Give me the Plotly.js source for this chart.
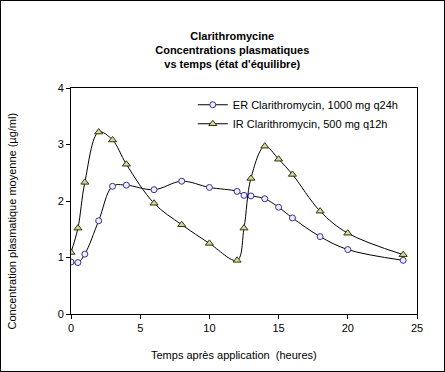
<!DOCTYPE html>
<html>
<head>
<meta charset="utf-8">
<script src="https://cdn.plot.ly/plotly-3.0.1.min.js"></script>
<style>
html,body{margin:0;padding:0;background:#fff;}
#chart{width:443px;height:370px;border:1px solid #000;}
</style>
</head>
<body>
<div id="chart"></div>
<script>
var hours = [0, 0.5, 1, 2, 3, 4, 6, 8, 10, 12, 12.5, 13, 14, 15, 16, 18, 20, 24];
var erValues = [0.92, 0.91, 1.06, 1.65, 2.26, 2.28, 2.2, 2.35, 2.24, 2.17, 2.1, 2.09, 2.04, 1.89, 1.7, 1.37, 1.14, 0.95];
var irValues = [1.09, 1.52, 2.33, 3.22, 3.08, 2.65, 1.96, 1.58, 1.25, 0.95, 1.52, 2.4, 2.97, 2.74, 2.47, 1.82, 1.43, 1.05];
var seriesNames = ["ER Clarithromycin, 1000 mg q24h", "IR Clarithromycin, 500 mg q12h"];
var xTicks = [0, 5, 10, 15, 20, 25];
var yTicks = [0, 1, 2, 3, 4];

var FONT = "Liberation Sans, Arial, sans-serif";

var traces = [
  {
    x: hours, y: erValues, name: seriesNames[0], type: "scatter", mode: "lines+markers",
    line: {color: "#000000", width: 1, shape: "spline", smoothing: 1},
    marker: {symbol: "circle", size: 6, color: "#EEEEFA", line: {color: "#333399", width: 1}}
  },
  {
    x: hours, y: irValues, name: seriesNames[1], type: "scatter", mode: "lines+markers",
    line: {color: "#000000", width: 1, shape: "spline", smoothing: 1},
    marker: {symbol: "triangle-up", size: 7, color: "#D6D6A8", line: {color: "#333300", width: 1}}
  }
];

var layout = {
  width: 443, height: 370,
  margin: {l: 70, r: 27, t: 87, b: 57},
  paper_bgcolor: "#ffffff", plot_bgcolor: "#ffffff",
  font: {family: FONT, size: 11, color: "#000000"},
  title: {
    text: "<b>Clarithromycine<br>Concentrations plasmatiques<br>vs temps (état d'équilibre)</b>",
    font: {family: FONT, size: 11, color: "#000000"},
    xref: "container", x: 0.522, xanchor: "center",
    yref: "container", y: 0.895, yanchor: "top"
  },
  xaxis: {
    range: [0, 25], tickvals: xTicks, ticktext: xTicks.map(String),
    showgrid: false, zeroline: false, showline: true, linecolor: "#000", linewidth: 1, mirror: true,
    ticks: "outside", ticklen: 4, tickcolor: "#000",
    tickfont: {family: FONT, size: 11, color: "#000"}
  },
  yaxis: {
    range: [0, 4], tickvals: yTicks, ticktext: yTicks.map(String),
    showgrid: false, zeroline: false, showline: true, linecolor: "#000", linewidth: 1, mirror: true,
    ticks: "outside", ticklen: 4, tickcolor: "#000",
    tickfont: {family: FONT, size: 11, color: "#000"}
  },
  showlegend: true,
  legend: {
    x: 0.352, xanchor: "left", y: 0.99, yanchor: "top",
    bgcolor: "rgba(0,0,0,0)", borderwidth: 0,
    font: {family: FONT, size: 11, color: "#000"},
    tracegroupgap: 0
  },
  annotations: [
    {
      text: "Temps après application  (heures)", showarrow: false,
      xref: "paper", x: 0.47, xanchor: "center",
      yref: "paper", y: -0.183, yanchor: "middle",
      font: {family: FONT, size: 11, color: "#000"}
    },
    {
      text: "Concentration plasmatique moyenne (µg/ml)", showarrow: false, textangle: -90,
      xref: "paper", x: -0.17, xanchor: "center",
      yref: "paper", y: 0.41, yanchor: "middle",
      font: {family: FONT, size: 11, color: "#000"}
    }
  ]
};

Plotly.newPlot("chart", traces, layout, {displayModeBar: false, staticPlot: true});
</script>
</body>
</html>
